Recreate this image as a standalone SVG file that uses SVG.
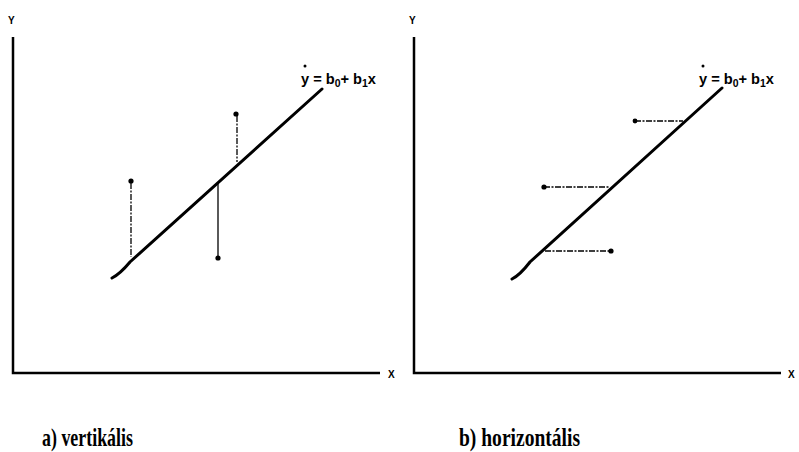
<svg xmlns="http://www.w3.org/2000/svg" width="799" height="452" viewBox="0 0 799 452">
<style>
.ax{stroke:#000;stroke-width:2.5;fill:none}
.reg{stroke:#000;stroke-width:3;fill:none;stroke-linecap:round}
.res{stroke:#000;stroke-width:1.3;fill:none}
.dash{stroke:#000;stroke-width:1.3;fill:none;stroke-dasharray:6 1.5 2 1.5}
.pt{fill:#000}
.lbl{font-family:"Liberation Sans",Arial,sans-serif;font-weight:bold;font-size:10px;fill:#000}
.eq{font-family:"Liberation Sans",Arial,sans-serif;font-weight:bold;font-size:14px;fill:#000}
.cap{font-family:"Liberation Serif","Times New Roman",serif;font-weight:bold;font-size:25px;fill:#000}
</style>
<g id="panel-a">
  <g id="axes-a">
    <path class="ax" d="M13,37 V373 H380"/>
    <text class="lbl" x="8" y="24">Y</text>
    <text class="lbl" x="388" y="378">X</text>
  </g>
  <g id="regline-a">
    <path class="reg" d="M112,278 Q120,274 130,262 L322,89"/>
    <text class="eq" x="301" y="84" textLength="75" lengthAdjust="spacingAndGlyphs">y = b<tspan font-size="10" dy="3">0</tspan><tspan dy="-3">+ b</tspan><tspan font-size="10" dy="3">1</tspan><tspan dy="-3">x</tspan></text>
    <circle class="pt" cx="305" cy="66" r="1.5"/>
  </g>
  <g id="connectors-a">
    <path class="dash" d="M131,183 V257"/>
    <path class="dash" d="M237,116 V162"/>
    <path class="res" d="M218,183 V258"/>
  </g>
  <g id="points-a">
    <circle class="pt" cx="131" cy="181" r="2.6"/>
    <circle class="pt" cx="236" cy="114" r="2.6"/>
    <circle class="pt" cx="218" cy="258" r="2.6"/>
  </g>
  <text class="cap" x="42" y="446" textLength="91" lengthAdjust="spacingAndGlyphs">a) vertikális</text>
</g>
<g id="panel-b">
  <g id="axes-b">
    <path class="ax" d="M414,37 V373 H781"/>
    <text class="lbl" x="409" y="24">Y</text>
    <text class="lbl" x="788" y="378">X</text>
  </g>
  <g id="regline-b">
    <path class="reg" d="M512,279 Q520,275 530,262 L722,88"/>
    <text class="eq" x="699" y="84" textLength="75" lengthAdjust="spacingAndGlyphs">y = b<tspan font-size="10" dy="3">0</tspan><tspan dy="-3">+ b</tspan><tspan font-size="10" dy="3">1</tspan><tspan dy="-3">x</tspan></text>
    <circle class="pt" cx="703" cy="66" r="1.5"/>
  </g>
  <g id="connectors-b">
    <path class="dash" d="M635,121 H683"/>
    <path class="dash" d="M544,187 H609"/>
    <path class="dash" d="M545,251 H610"/>
  </g>
  <g id="points-b">
    <circle class="pt" cx="635" cy="121" r="2.4"/>
    <circle class="pt" cx="544" cy="187" r="2.6"/>
    <circle class="pt" cx="611" cy="251" r="2.6"/>
  </g>
  <text class="cap" x="459" y="446" textLength="121" lengthAdjust="spacingAndGlyphs">b) horizontális</text>
</g>
</svg>
